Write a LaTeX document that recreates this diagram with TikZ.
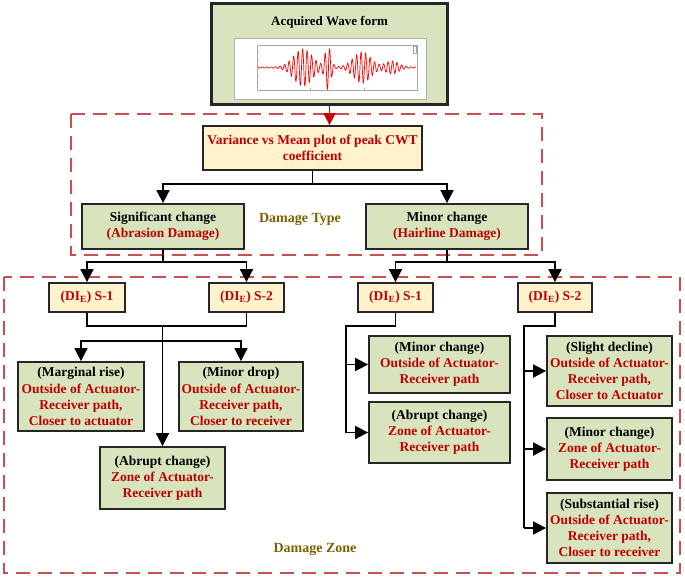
\documentclass[tikz,border=0pt]{standalone}
\usepackage{fontspec}
\setmainfont{Liberation Serif}
\usetikzlibrary{arrows.meta}
\definecolor{gfill}{RGB}{215,228,189}
\definecolor{yfill}{RGB}{255,242,204}
\definecolor{rtext}{RGB}{192,0,0}
\definecolor{dred}{RGB}{200,80,80}
\definecolor{olive}{RGB}{127,96,0}
\begin{document}
\begin{tikzpicture}[x=1pt,y=-1pt,
  font=\fontsize{13.5}{16.2}\selectfont\bfseries,
  gbox/.style={draw=black!85, line width=1.8pt, fill=gfill, align=center, inner sep=0pt},
  ybox/.style={draw=black!85, line width=1.8pt, fill=yfill, align=center, inner sep=0pt, text=rtext},
  arr/.style={-{Triangle[length=13pt,width=13pt]}, line width=1.8pt},
  conn/.style={line width=1.8pt},
  dashbox/.style={draw=dred, line width=2.2pt, dash pattern=on 14pt off 8pt},
  lbl/.style={text=olive, font=\fontsize{14}{16}\selectfont\bfseries},
  declare function={env(\t)=0.6+18*exp(-min(((\t-303)/13)^2,20))+21*exp(-min(((\t-328)/4)^2,20))+15*exp(-min(((\t-362)/12)^2,20))+6*exp(-min(((\t-392)/9)^2,20));}
]
\useasboundingbox (0,0) rectangle (685,578);

% dashed regions
\draw[dashbox] (71,114) rectangle (542,255);
\draw[dashbox] (4,277) rectangle (680,573);
\node[lbl] (dtype) at (300,219) {Damage Type};
\node[lbl] (dzone) at (315,549) {Damage Zone};

% top waveform box
\node[gbox, line width=2.2pt, minimum width=236, minimum height=101] (wave) at (329.5,54) {};
\node[font=\fontsize{13}{15}\selectfont\bfseries] (title) at (329.5,22) {Acquired Wave form};
\node[draw=gray!60, fill=white, line width=0.8pt, minimum width=192, minimum height=61, inner sep=0pt] (img) at (330,68.5) {};
\draw[gray!70, line width=0.3pt] (257,45) rectangle (417,90);
\foreach \yy in {45,52.5,60,67.5,75,82.5,90} {\draw[gray!60, line width=0.3pt] (257,\yy) -- (259,\yy);}
\foreach \xx in {257,310,364,417} {\draw[gray!60, line width=0.3pt] (\xx,90) -- (\xx,88);}
\draw[gray!70, line width=0.3pt] (413,46) rectangle (416,53);
\draw[red, line width=0.7pt] plot[domain=258:416, samples=700] (\x, {67.5 - env(\x)*sin(mod(\x,4.5)*80)});

% variance box
\node[ybox, minimum width=219, minimum height=44] (var) at (312.5,148) {Variance vs Mean plot of peak CWT\\coefficient};
\draw[red!80!black, line width=1.8pt, -{Triangle[length=12pt,width=12pt]}] (wave.south) -- (wave.south |- var.north);

% damage type boxes
\node[gbox, minimum width=162, minimum height=45] (sig) at (163,226.5) {Significant change\\\textcolor{rtext}{(Abrasion Damage)}};
\node[gbox, minimum width=162, minimum height=45] (minor) at (447,226.5) {Minor change\\\textcolor{rtext}{(Hairline Damage)}};
\coordinate (vj) at (312.5,184);
\draw[conn] (var.south) -- (vj);
\draw[arr] (vj) -| (sig.north);
\draw[arr] (vj) -| (minor.north);

% S boxes
\node[ybox, minimum width=76, minimum height=29] (s1l) at (87,297.5) {(DI\textsubscript{E}) S-1};
\node[ybox, minimum width=75, minimum height=29] (s2l) at (246.5,297.5) {(DI\textsubscript{E}) S-2};
\node[ybox, minimum width=75, minimum height=29] (s1r) at (395.5,297.5) {(DI\textsubscript{E}) S-1};
\node[ybox, minimum width=74, minimum height=29] (s2r) at (555,297.5) {(DI\textsubscript{E}) S-2};
\coordinate (lj) at (163,262);
\coordinate (rj) at (447,262);
\draw[conn] (sig.south) -- (lj);
\draw[arr] (lj) -| (s1l.north);
\draw[arr] (lj) -| (s2l.north);
\draw[conn] (minor.south) -- (rj);
\draw[arr] (rj) -| (s1r.north);
\draw[arr] (rj) -| (s2r.north);

% left zone boxes
\node[gbox, minimum width=126, minimum height=69] (marg) at (81,396.5) {(Marginal rise)\\\textcolor{rtext}{Outside of Actuator-}\\\textcolor{rtext}{Receiver path,}\\\textcolor{rtext}{Closer to actuator}};
\node[gbox, minimum width=124, minimum height=69] (drop) at (241,396.5) {(Minor drop)\\\textcolor{rtext}{Outside of Actuator-}\\\textcolor{rtext}{Receiver path,}\\\textcolor{rtext}{Closer to receiver}};
\node[gbox, minimum width=125, minimum height=62] (abrl) at (162.5,478) {(Abrupt change)\\\textcolor{rtext}{Zone of Actuator-}\\\textcolor{rtext}{Receiver path}};
\coordinate (lj2) at (162.5,326);
\coordinate (lj3) at (162.5,341);
\draw[conn] (s1l.south) |- (lj2) -| (s2l.south);
\draw[arr] (lj2) -- (abrl.north);
\draw[arr] (lj3) -| (marg.north);
\draw[arr] (lj3) -| (drop.north);

% right S-1 boxes
\node[gbox, minimum width=141, minimum height=57] (mch1) at (439.5,364.5) {(Minor change)\\\textcolor{rtext}{Outside of Actuator-}\\\textcolor{rtext}{Receiver path}};
\node[gbox, minimum width=141, minimum height=61] (abr2) at (439.5,432.5) {(Abrupt change)\\\textcolor{rtext}{Zone of Actuator-}\\\textcolor{rtext}{Receiver path}};
\coordinate (r1a) at (346,326);
\coordinate (r1b) at (346,364.5);
\coordinate (r1c) at (346,432.5);
\draw[conn] (s1r.south) |- (r1a) -- (r1c);
\draw[arr] (r1b) -- (mch1.west);
\draw[arr] (r1c) -- (abr2.west);

% right S-2 boxes
\node[gbox, minimum width=125, minimum height=70] (slight) at (609.5,371) {(Slight decline)\\\textcolor{rtext}{Outside of Actuator-}\\\textcolor{rtext}{Receiver path,}\\\textcolor{rtext}{Closer to Actuator}};
\node[gbox, minimum width=125, minimum height=62] (mch2) at (609.5,449) {(Minor change)\\\textcolor{rtext}{Zone of Actuator-}\\\textcolor{rtext}{Receiver path}};
\node[gbox, minimum width=125, minimum height=70] (subst) at (609.5,528) {(Substantial rise)\\\textcolor{rtext}{Outside of Actuator-}\\\textcolor{rtext}{Receiver path,}\\\textcolor{rtext}{Closer to receiver}};
\coordinate (r2a) at (524,326);
\coordinate (r2b) at (524,371);
\coordinate (r2c) at (524,449);
\coordinate (r2d) at (524,528);
\draw[conn] (s2r.south) |- (r2a) -- (r2d);
\draw[arr] (r2b) -- (slight.west);
\draw[arr] (r2c) -- (mch2.west);
\draw[arr] (r2d) -- (subst.west);
\end{tikzpicture}
\end{document}
